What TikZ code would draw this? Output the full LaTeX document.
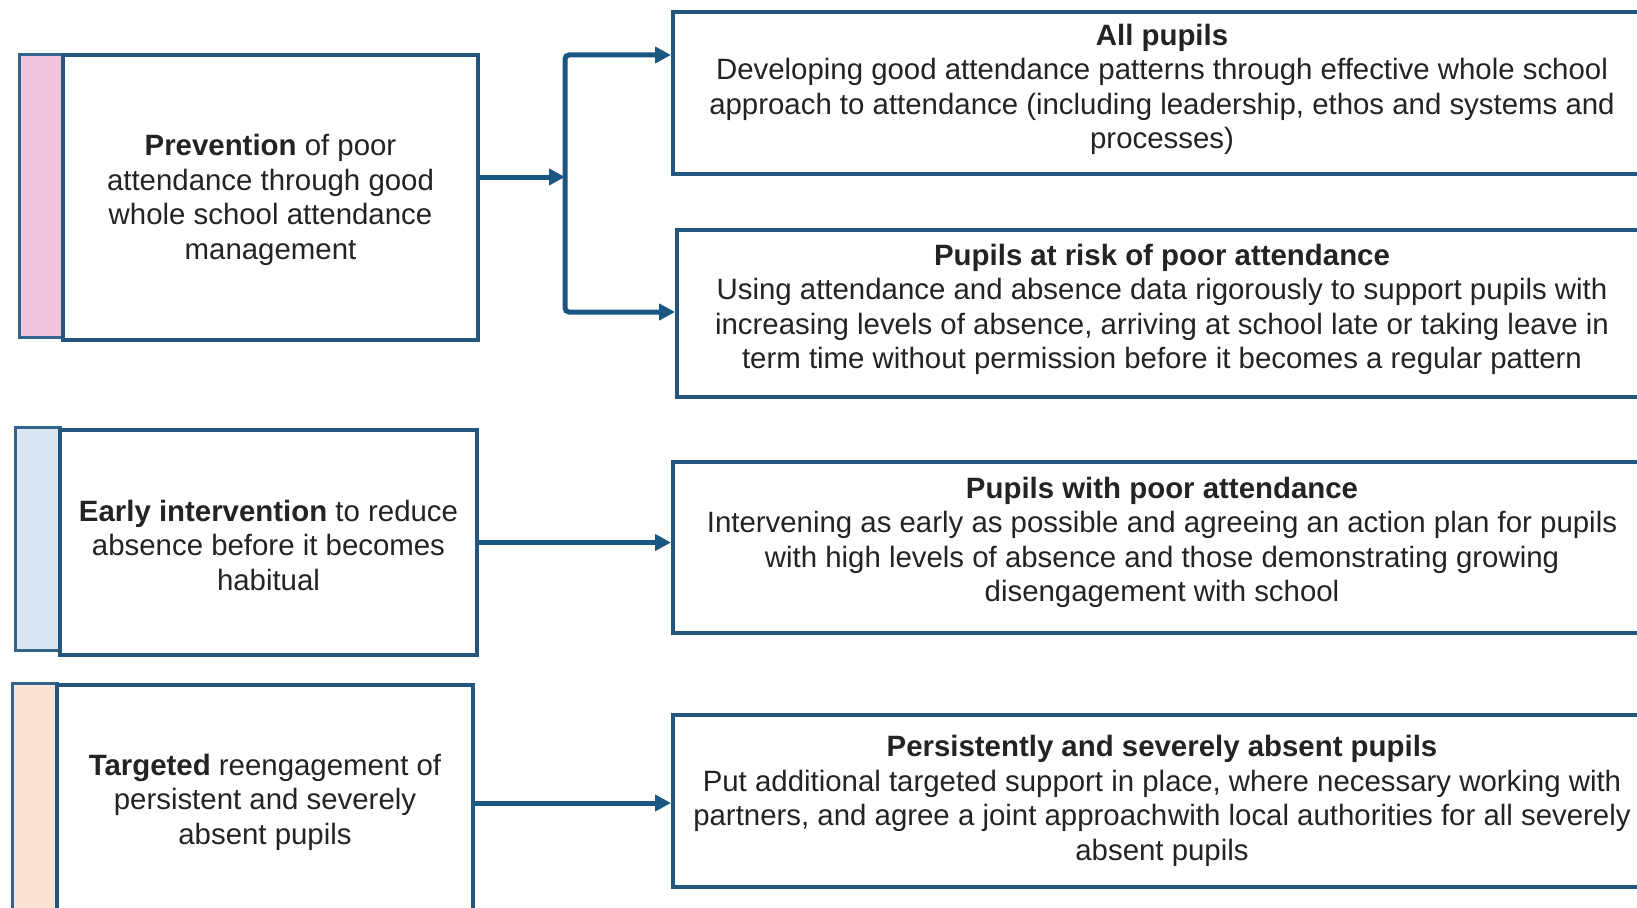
\documentclass[tikz,border=0pt]{standalone}
\usepackage{fontspec}
\setmainfont{Liberation Sans}
\usetikzlibrary{arrows.meta}
\definecolor{boxline}{RGB}{34,86,126}
\definecolor{stripline}{RGB}{52,100,142}
\definecolor{arrowcol}{RGB}{26,86,130}
\definecolor{pinkfill}{RGB}{242,197,223}
\definecolor{bluefill}{RGB}{220,230,243}
\definecolor{peachfill}{RGB}{252,228,213}
\definecolor{txt}{RGB}{35,35,35}
\begin{document}
\begin{tikzpicture}[x=1pt,y=-1pt,
  mainbox/.style={draw=boxline, line width=4.2pt, fill=white, rectangle, inner sep=0pt,
    align=center, text=txt, font=\fontsize{29.4}{34.5}\selectfont},
  strip/.style={draw=stripline, line width=3pt, rectangle, inner sep=0pt},
  rbox/.style={draw=boxline, line width=4pt, fill=white, rectangle, inner sep=0pt},
  rtext/.style={align=center, text=txt, inner sep=0pt, font=\fontsize{29.4}{34.5}\selectfont},
  arr/.style={draw=arrowcol, line width=5pt, -{Triangle[length=16pt,width=16pt]}}]
\useasboundingbox (0,0) rectangle (1637,907);
\clip (0,0) rectangle (1637,907);
\fill[white] (0,0) rectangle (1637,907);

% colour strips
\node[strip, fill=pinkfill, minimum width=44pt, minimum height=282pt] (s1) at (41,196) {};
\node[strip, fill=bluefill, minimum width=45pt, minimum height=223pt] (s2) at (37.5,538.5) {};
\node[strip, fill=peachfill, minimum width=45pt, minimum height=240pt] (s3) at (34.5,803) {};

% left boxes
\node[mainbox, minimum width=415pt, minimum height=285pt] (p) at (270.5,197.5) {};
\node[rtext] (pt) at (270.5,200)
  {\textbf{Prevention} of poor\\attendance through good\\whole school attendance\\management};
\node[mainbox, minimum width=417pt, minimum height=225pt] (e) at (268.5,542.5) {};
\node[rtext] (et) at (268.5,545)
  {\textbf{Early intervention} to reduce\\absence before it becomes\\habitual};
\node[mainbox, minimum width=416pt, minimum height=236pt] (t) at (265,803) {};
\node[rtext] (tt) at (265,802)
  {\textbf{Targeted} reengagement of\\persistent and severely\\absent pupils};

% right boxes
\node[rbox, minimum width=978pt, minimum height=162pt] (a) at (1162,93) {};
\node[rbox, minimum width=974pt, minimum height=167pt] (b) at (1164,313.5) {};
\node[rbox, minimum width=978pt, minimum height=171pt] (c) at (1162,547.5) {};
\node[rbox, minimum width=978pt, minimum height=172pt] (d) at (1162,801) {};

\node[rtext] (at) at (1162,89.5)
  {\textbf{All pupils}\\Developing good attendance patterns through effective whole school\\approach to attendance (including leadership, ethos and systems and\\processes)};
\node[rtext] (bt) at (1162,309.5)
  {\textbf{Pupils at risk of poor attendance}\\Using attendance and absence data rigorously to support pupils with\\increasing levels of absence, arriving at school late or taking leave in\\term time without permission before it becomes a regular pattern};
\node[rtext] (ct) at (1162,542.5)
  {\textbf{Pupils with poor attendance}\\Intervening as early as possible and agreeing an action plan for pupils\\with high levels of absence and those demonstrating growing\\disengagement with school};
\node[rtext] (dt) at (1162,801)
  {\textbf{Persistently and severely absent pupils}\\Put additional targeted support in place, where necessary working with\\partners, and agree a joint approach\hspace{1pt}with local authorities for all severely\\absent pupils};

% connectors
\coordinate (jm) at (565,177);
\coordinate (jt) at (565,55);
\coordinate (jb) at (565,312);
\draw[arr] (jm -| p.east) -- (jm);
\draw[arr, rounded corners=4pt] (jm) -- (jt) -- (jt -| a.west);
\draw[arr, rounded corners=4pt] (jm) -- (jb) -- (jb -| b.west);
\draw[arr] (e.east) -- (e.east -| c.west);
\draw[arr] (t.east) -- (t.east -| d.west);
\end{tikzpicture}
\end{document}
